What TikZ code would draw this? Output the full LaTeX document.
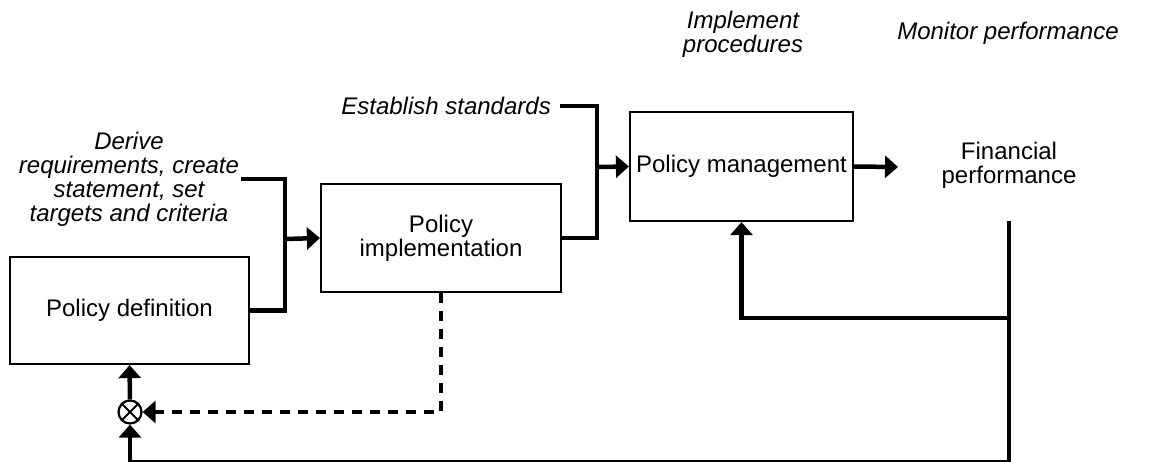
\documentclass[tikz,border=0pt]{standalone}
\usepackage{fontspec}
\setmainfont{Liberation Sans}
\usetikzlibrary{arrows.meta,calc}
\begin{document}
\begin{tikzpicture}[x=1pt,y=-1pt,
  font=\fontsize{24}{24}\selectfont,
  box/.style={draw, line width=2.2pt, rectangle, align=center, inner sep=0pt},
  conn/.style={line width=4.5pt},
  arr/.style={conn, -{Triangle[length=13pt,width=22pt]}},
  lbl/.style={align=center, font=\fontsize{24}{24}\selectfont\itshape, inner sep=2pt},
  dashedconn/.style={line width=4.5pt, dash pattern=on 10pt off 8pt, -{Triangle[length=13pt,width=22pt]}},
  summer/.style={draw, circle, line width=2.2pt, minimum size=23pt, inner sep=0pt,
    path picture={\draw[line width=2pt] (path picture bounding box.south west) -- (path picture bounding box.north east)
      (path picture bounding box.north west) -- (path picture bounding box.south east);}}
]
\useasboundingbox (0,0) rectangle (1161,461);

% boxes
\node[box, minimum width=239pt, minimum height=107pt] (pd) at (129.5,310.5) {Policy definition};
\node[box, minimum width=240pt, minimum height=108pt] (pi) at (441,238) {Policy\\implementation};
\node[box, minimum width=223pt, minimum height=109pt] (pm) at (741.5,166.5) {Policy management};
\node[align=center, inner sep=0pt] (fp) at (1009,165) {Financial\\performance};

% labels
\node[lbl] (der) at (129,179) {Derive\\requirements, create\\statement, set\\targets and criteria};
\node[lbl, anchor=east, inner xsep=9pt] (est) at (560,106) {Establish standards};
\node[lbl] (imp) at (743,34) {Implement\\procedures};
\node[lbl] (mon) at (1008,33) {Monitor performance};

% summing junction
\node[summer] (sum) at (130,412) {};

% coordinates
\coordinate (j1) at (285,239);
\coordinate (j2) at (597,167);
\coordinate (pmout) at (898,167);
\coordinate (fptop) at (1009,221);
\coordinate (fpbr) at (1009,318);
\coordinate (fpbot) at (1009,462.5);
\coordinate (sumbot) at (130,462.5);

% connectors
\draw[conn] (pd.east) -| (j1) |- (der.east);
\draw[arr] (j1) -- (pi.west);
\draw[conn] (pi.east) -| (j2) |- (est.east);
\draw[arr] (j2) -- (pm.west);
\draw[arr] (pm.east) -- (pmout);
\draw[conn] (fptop) -- (fpbot) -- (sumbot);
\draw[arr] (sumbot) -- (sum.south);
\draw[arr] (fpbr) -| (pm.south);
\draw[arr] (sum.north) -- (pd.south);
\draw[dashedconn] (pi.south) |- (sum.east);
\end{tikzpicture}
\end{document}
